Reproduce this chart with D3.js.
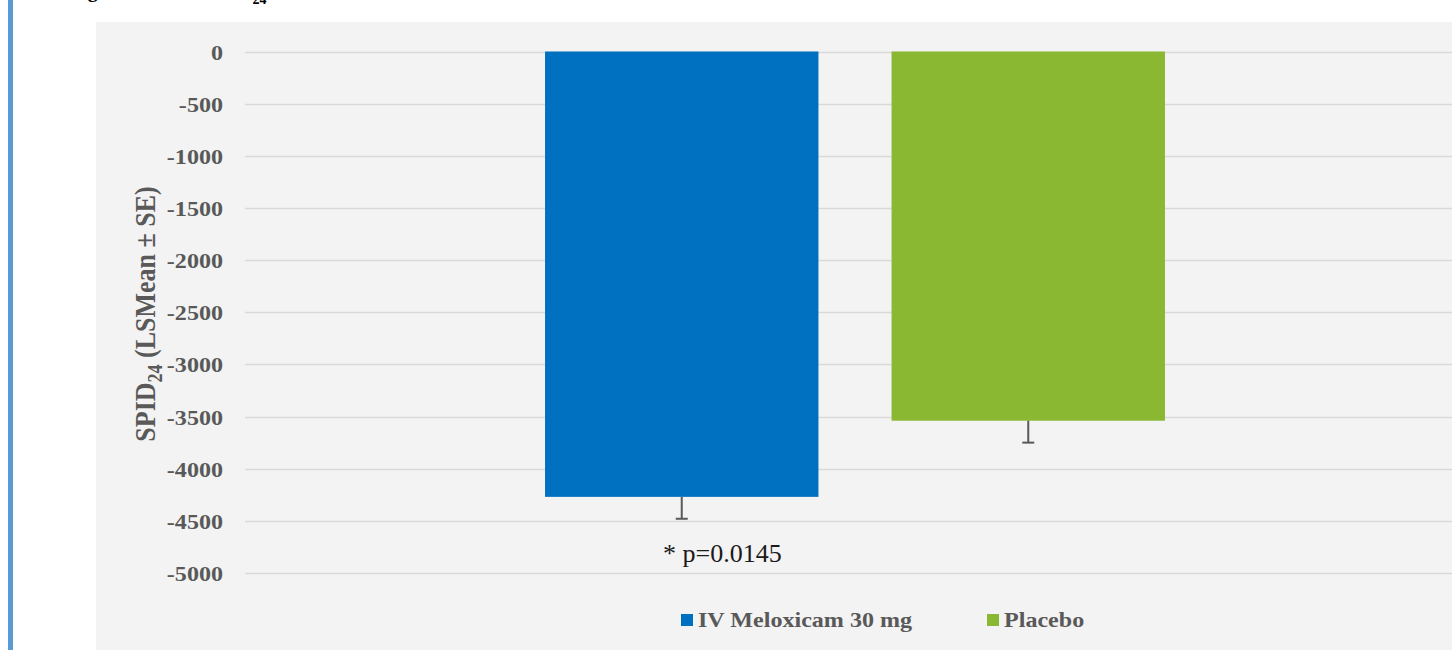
<!DOCTYPE html>
<html><head><meta charset="utf-8">
<script src="https://cdn.jsdelivr.net/npm/d3@7"></script>
<style>
html,body{margin:0;padding:0;background:#fff;overflow:hidden;}
svg{display:block;}
</style></head>
<body>
<svg id="chart" width="1452" height="650"></svg>
<script>
// ---- data ----
const categories = ["SPID24"];
const seriesNames = ["IV Meloxicam 30 mg", "Placebo"];
const seriesColors = ["#0070C0", "#8AB833"];
const lsMeans = [-4270, -3540];
const stdErrors = [210, 210];
const yTicks = [0, -500, -1000, -1500, -2000, -2500, -3000, -3500, -4000, -4500, -5000];
const pValueLabel = "* p=0.0145";

const svg = d3.select("#chart");
const W = 1452, H = 650;
const serif = "'Liberation Serif','Times New Roman',serif";
const gray = "#595959";
const stretch = 1.12; // chart image is slightly stretched horizontally

// left accent bar
svg.append("rect").attr("x", 8).attr("y", 0).attr("width", 5).attr("height", H).attr("fill", "#5B9BD5");

// caption (clipped at top, as in the source)
const cap = svg.append("text").attr("x", 70).attr("y", -3)
  .attr("font-family", serif).attr("font-weight", "bold").attr("font-size", 20).attr("fill", "#000");
cap.append("tspan").text("Figure 2: Mean SPID");
cap.append("tspan").attr("dy", 7).attr("font-size", 14).text("24");

// chart background
svg.append("rect").attr("x", 96).attr("y", 22).attr("width", W - 96).attr("height", H - 22).attr("fill", "#F3F3F3");

const plotLeft = 245, plotRight = 1465;
const y = d3.scaleLinear().domain([0, -5000]).range([51.5, 573]);
const x0 = d3.scaleBand().domain(categories).range([plotLeft, plotRight]).paddingInner(0).paddingOuter(0.484);
const x1 = d3.scaleBand().domain(seriesNames).range([0, x0.bandwidth()]).paddingInner(0.211).paddingOuter(0);

// gridlines
svg.append("g").selectAll("line").data(yTicks).join("line")
  .attr("x1", plotLeft).attr("x2", W)
  .attr("y1", d => Math.round(y(d)) + 0.5).attr("y2", d => Math.round(y(d)) + 0.5)
  .attr("stroke", "#D9D9D9").attr("stroke-width", 1.5);

// y axis labels
const yAxis = d3.axisLeft(y).tickValues(yTicks).tickSize(0).tickPadding(0).tickFormat(d => String(d));
const gy = svg.append("g").attr("transform", `translate(223,0)`).call(yAxis);
gy.select(".domain").remove();
gy.selectAll("text").attr("font-family", serif).attr("font-weight", "bold")
  .attr("font-size", 21.5).attr("fill", gray).attr("x", 0).attr("dy", "0.35em")
  .attr("transform", `scale(${stretch},1)`);

// y axis title
const yt = svg.append("text").attr("transform", `translate(155,314) scale(${stretch},1) rotate(-90)`)
  .attr("text-anchor", "middle").attr("font-family", serif).attr("font-weight", "bold")
  .attr("font-size", 26).attr("fill", gray);
yt.append("tspan").text("SPID");
yt.append("tspan").attr("dy", 6).attr("font-size", 18).text("24");
yt.append("tspan").attr("dy", -6).text(" (LSMean \u00B1 SE)");

// bars
const data = seriesNames.map((s, i) => ({ s, v: lsMeans[i], se: stdErrors[i], c: seriesColors[i] }));
const g = svg.append("g").attr("transform", `translate(${x0(categories[0])},0)`);
g.selectAll("rect.bar").data(data).join("rect").attr("class", "bar")
  .attr("x", d => x1(d.s)).attr("width", x1.bandwidth())
  .attr("y", d => y(0)).attr("height", d => y(d.v) - y(0)).attr("fill", d => d.c);

// error bars
const eb = g.selectAll("g.err").data(data).join("g").attr("class", "err");
eb.append("line")
  .attr("x1", d => x1(d.s) + x1.bandwidth() / 2).attr("x2", d => x1(d.s) + x1.bandwidth() / 2)
  .attr("y1", d => y(d.v)).attr("y2", d => y(d.v - d.se))
  .attr("stroke", gray).attr("stroke-width", 2);
eb.append("line")
  .attr("x1", d => x1(d.s) + x1.bandwidth() / 2 - 6).attr("x2", d => x1(d.s) + x1.bandwidth() / 2 + 6)
  .attr("y1", d => y(d.v - d.se)).attr("y2", d => y(d.v - d.se))
  .attr("stroke", gray).attr("stroke-width", 2);

// p-value annotation
svg.append("text").attr("x", 663).attr("y", 562)
  .attr("font-family", serif).attr("font-size", 26).attr("fill", "#1a1a1a").text(pValueLabel);

// legend
const legX = [681, 987];
const lg = svg.append("g").selectAll("g").data(data).join("g")
  .attr("transform", (d, i) => `translate(${legX[i]},614)`);
lg.append("rect").attr("width", 12).attr("height", 12).attr("fill", d => d.c);
lg.append("text").attr("transform", `translate(17,12.7) scale(${stretch},1)`)
  .attr("font-family", serif).attr("font-weight", "bold").attr("font-size", 21.5).attr("fill", gray)
  .text(d => d.s);
</script>
</body></html>
